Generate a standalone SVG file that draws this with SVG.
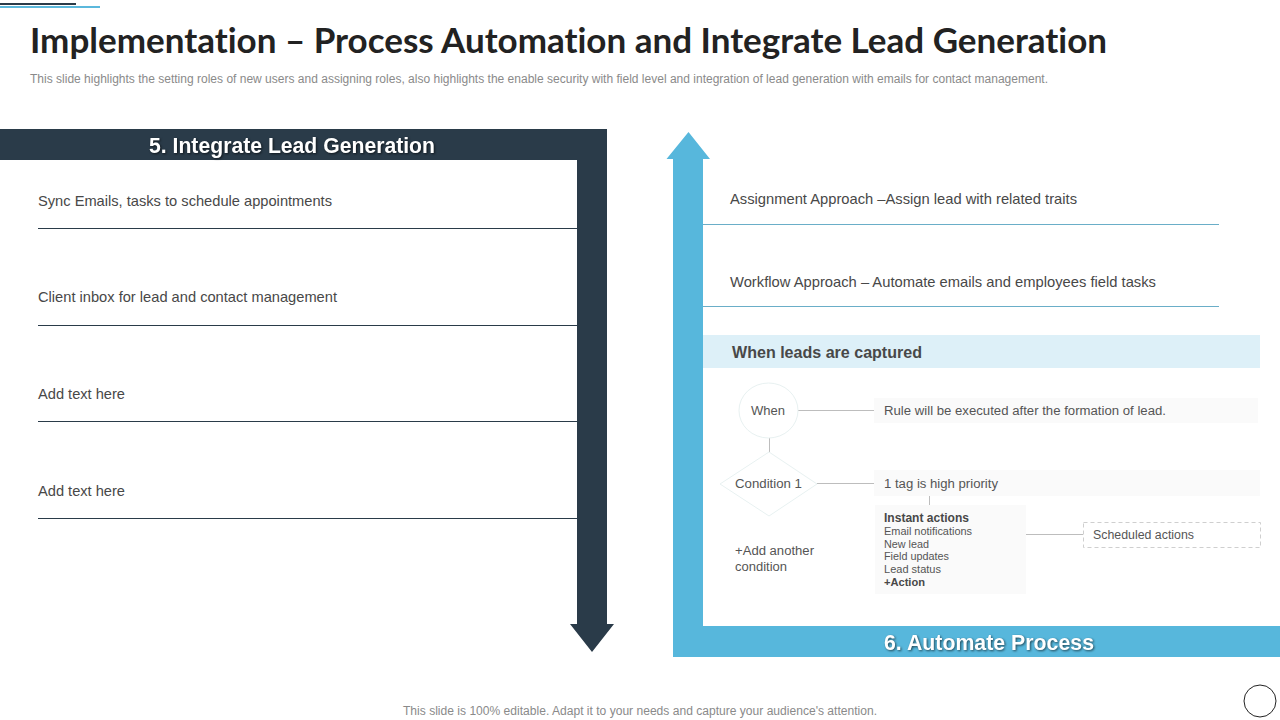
<svg xmlns="http://www.w3.org/2000/svg" width="1280" height="720" viewBox="0 0 1280 720">
<style>
text{font-family:"Liberation Sans",Arial,sans-serif;fill:#484848;font-variant-ligatures:none}
.title{font-family:"Lato","Liberation Sans",sans-serif;font-weight:700;font-size:34px;fill:#222}
.sub{font-size:12px;fill:#8a8a8a}
.head{font-size:22px;font-weight:700;fill:#fff;filter:drop-shadow(1px 1px 1px rgba(0,0,0,.6))}
.item{font-size:14.5px}
.small{font-size:12.5px;fill:#555}
.tiny{font-size:11px;fill:#555}
.b{font-weight:700;fill:#484848}
.ln{stroke:#bdbdbd;stroke-width:1;fill:none}
.dk{stroke:#2a3b49;stroke-width:1}
.bl{stroke:#6aaec8;stroke-width:1}
.pale{fill:#fafafa}
.shape{fill:#fff;stroke:#e8f1f1;stroke-width:1}
</style>
<rect width="1280" height="720" fill="#fff"/>
<g id="corner-accent">
<rect x="0" y="6" width="100" height="2" fill="#5bb8dc"/>
<rect x="0" y="3" width="76" height="2" fill="#2a3b49"/>
</g>
<g id="title-block">
<text class="title" x="30" y="53" textLength="1077" lengthAdjust="spacingAndGlyphs">Implementation – Process Automation and Integrate Lead Generation</text>
<text class="sub" x="30" y="83" textLength="1018" lengthAdjust="spacingAndGlyphs">This slide highlights the setting roles of new users and assigning roles, also highlights the enable security with field level and integration of lead generation with emails for contact management.</text>
</g>
<g id="connectors">
<line class="dk" x1="38" y1="228.500" x2="577" y2="228.500"/>
<line class="dk" x1="38" y1="325.500" x2="577" y2="325.500"/>
<line class="dk" x1="38" y1="421.500" x2="577" y2="421.500"/>
<line class="dk" x1="38" y1="518.500" x2="577" y2="518.500"/>
<line class="bl" x1="703" y1="224.500" x2="1219" y2="224.500"/>
<line class="bl" x1="703" y1="306.500" x2="1219" y2="306.500"/>
<line class="ln" x1="798" y1="410.500" x2="874" y2="410.500"/>
<line class="ln" x1="769.500" y1="438" x2="769.500" y2="452"/>
<line class="ln" x1="817" y1="483.500" x2="874" y2="483.500"/>
<line class="ln" x1="929.500" y1="496" x2="929.500" y2="507"/>
<line class="ln" x1="1026" y1="534.500" x2="1083" y2="534.500"/>
</g>
<g id="arrow-integrate">
<path d="M0 129H607V624H614L592 652L570 624H577V160H0Z" fill="#2a3b49"/>
<text class="head" x="149" y="153" textLength="286" lengthAdjust="spacingAndGlyphs">5. Integrate Lead Generation</text>
</g>
<g id="arrow-automate">
<path d="M1280 657H673V159H666.500L688.500 132L710 159H703V626H1280Z" fill="#57b7dc"/>
<text class="head" x="884" y="650" textLength="210" lengthAdjust="spacingAndGlyphs">6. Automate Process</text>
</g>
<g id="left-items">
<text class="item" x="38" y="206" textLength="294" lengthAdjust="spacingAndGlyphs">Sync Emails, tasks to schedule appointments</text>
<text class="item" x="38" y="302" textLength="299" lengthAdjust="spacingAndGlyphs">Client inbox for lead and contact management</text>
<text class="item" x="38" y="399" textLength="87" lengthAdjust="spacingAndGlyphs">Add text here</text>
<text class="item" x="38" y="496" textLength="87" lengthAdjust="spacingAndGlyphs">Add text here</text>
</g>
<g id="right-items">
<text class="item" x="730" y="204" textLength="347" lengthAdjust="spacingAndGlyphs">Assignment Approach –Assign lead with related traits</text>
<text class="item" x="730" y="287" textLength="426" lengthAdjust="spacingAndGlyphs">Workflow Approach – Automate emails and employees field tasks</text>
</g>
<g id="captured-band">
<rect x="703" y="335" width="557" height="33" fill="#ddf0f8"/>
<text x="732" y="358" font-size="16" font-weight="700" textLength="190" lengthAdjust="spacingAndGlyphs">When leads are captured</text>
</g>
<g id="when-node">
<ellipse class="shape" cx="768.500" cy="410.500" rx="29.500" ry="27.500"/>
<text class="small" x="751" y="414.500" textLength="34" lengthAdjust="spacingAndGlyphs">When</text>
</g>
<g id="when-rule">
<rect class="pale" x="874" y="398" width="384" height="25"/>
<text class="small" x="884" y="414.500" textLength="282" lengthAdjust="spacingAndGlyphs">Rule will be executed after the formation of lead.</text>
</g>
<g id="condition-node">
<polygon class="shape" points="769,452 817,484 769,516 720,484"/>
<text class="small" x="735" y="487.500" textLength="67" lengthAdjust="spacingAndGlyphs">Condition 1</text>
</g>
<g id="condition-tag">
<rect class="pale" x="874" y="470" width="386" height="26"/>
<text class="small" x="884" y="487.500" textLength="114" lengthAdjust="spacingAndGlyphs">1 tag is high priority</text>
</g>
<g id="add-condition">
<text class="small" x="735" y="555" textLength="79" lengthAdjust="spacingAndGlyphs">+Add another</text>
<text class="small" x="735" y="571" textLength="52" lengthAdjust="spacingAndGlyphs">condition</text>
</g>
<g id="instant-actions">
<rect class="pale" x="875" y="505" width="151" height="89"/>
<text class="small b" x="884" y="522" textLength="85" lengthAdjust="spacingAndGlyphs">Instant actions</text>
<text class="tiny" x="884" y="535" textLength="88" lengthAdjust="spacingAndGlyphs">Email notifications</text>
<text class="tiny" x="884" y="548" textLength="45" lengthAdjust="spacingAndGlyphs">New lead</text>
<text class="tiny" x="884" y="560" textLength="65" lengthAdjust="spacingAndGlyphs">Field updates</text>
<text class="tiny" x="884" y="573" textLength="57" lengthAdjust="spacingAndGlyphs">Lead status</text>
<text class="tiny b" x="884" y="586" textLength="41" lengthAdjust="spacingAndGlyphs">+Action</text>
</g>
<g id="scheduled-actions">
<rect x="1083.500" y="522.500" width="177" height="25" fill="#fff" stroke="#cfcfcf" stroke-dasharray="4 3"/>
<text class="small" x="1093" y="539" textLength="101" lengthAdjust="spacingAndGlyphs">Scheduled actions</text>
</g>
<g id="footer">
<text class="sub" x="403" y="715" textLength="474" lengthAdjust="spacingAndGlyphs">This slide is 100% editable. Adapt it to your needs and capture your audience's attention.</text>
<circle cx="1260" cy="701" r="16" fill="#fff" stroke="#222"/>
</g>
</svg>
